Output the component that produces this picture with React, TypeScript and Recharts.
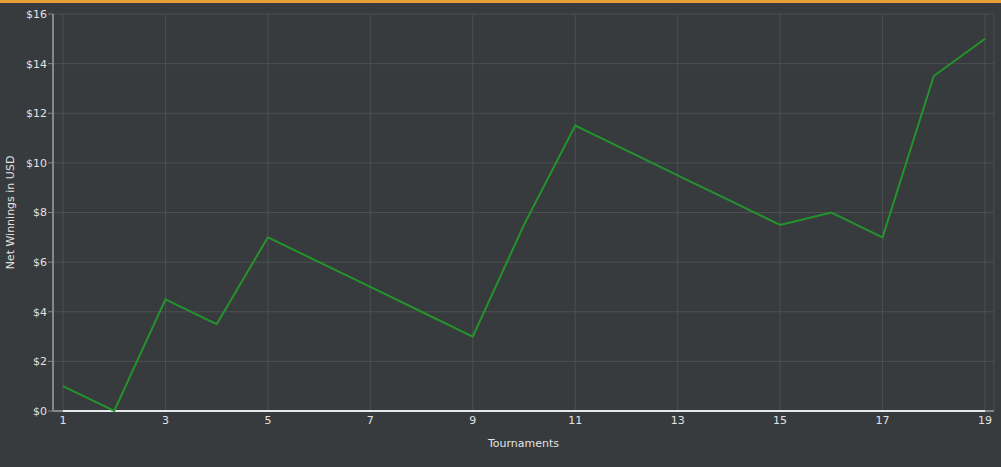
import React from "react"
import {
  LineChart,
  Line,
  XAxis,
  YAxis,
  CartesianGrid,
  ReferenceLine,
} from "recharts"

const tournaments = [1, 2, 3, 4, 5, 6, 7, 8, 9, 10, 11, 12, 13, 14, 15, 16, 17, 18, 19]
const netWinnings = [1, 0, 4.5, 3.5, 7, 6, 5, 4, 3, 7.5, 11.5, 10.5, 9.5, 8.5, 7.5, 8, 7, 13.5, 15]
const xTicks = [1, 3, 5, 7, 9, 11, 13, 15, 17, 19]
const yTicks = [0, 2, 4, 6, 8, 10, 12, 14, 16]

const data = tournaments.map((t, i) => ({ tournament: t, winnings: netWinnings[i] }))

const BG = "#373b3e"
const GRID = "#4c5053"
const BORDER = "#858789"
const TEXT = "#e2e2e2"
const FONT = "'DejaVu Sans', Verdana, sans-serif"

export default function App() {
  return (
    <div
      style={{
        position: "fixed",
        top: 0,
        left: 0,
        width: 1001,
        height: 467,
        background: BG,
        fontFamily: FONT,
      }}
    >
      <div style={{ position: "absolute", top: 0, left: 0, width: 1001, height: 3, background: "#e89f3a" }} />
      <LineChart
        width={1001}
        height={467}
        data={data}
        margin={{ top: 14, right: 7, bottom: 0, left: 0 }}
      >
        <CartesianGrid stroke={GRID} strokeWidth={1} />
        <XAxis
          dataKey="tournament"
          type="number"
          domain={[1, 19]}
          ticks={xTicks}
          padding={{ left: 10, right: 9 }}
          height={56}
          axisLine={{ stroke: BORDER, strokeWidth: 2 }}
          tickLine={false}
          tickSize={3}
          tickMargin={2}
          tick={{ fill: TEXT, fontSize: 11, fontFamily: FONT }}
          label={{
            value: "Tournaments",
            position: "insideBottom",
            offset: 20,
            fill: TEXT,
            fontSize: 11,
            fontFamily: FONT,
          }}
        />
        <XAxis
          xAxisId="top"
          dataKey="tournament"
          type="number"
          domain={[1, 19]}
          orientation="top"
          height={0}
          tick={false}
          tickLine={false}
          axisLine={{ stroke: BORDER, strokeWidth: 2 }}
        />
        <YAxis
          type="number"
          domain={[0, 16]}
          ticks={yTicks}
          width={53}
          axisLine={{ stroke: BORDER, strokeWidth: 2 }}
          tickLine={{ stroke: BORDER }}
          tickSize={5}
          tickMargin={1}
          tickFormatter={(v) => `$${v}`}
          tick={{ fill: TEXT, fontSize: 11, fontFamily: FONT }}
          label={{
            value: "Net Winnings in USD",
            angle: -90,
            position: "insideLeft",
            offset: 10,
            fill: TEXT,
            fontSize: 11,
            fontFamily: FONT,
            style: { textAnchor: "middle" },
          }}
        />
        <YAxis
          yAxisId="right"
          orientation="right"
          type="number"
          domain={[0, 16]}
          width={0}
          tick={false}
          tickLine={false}
          axisLine={{ stroke: BORDER, strokeWidth: 2 }}
        />
        <ReferenceLine
          segment={[
            { x: 1, y: 0 },
            { x: 19, y: 0 },
          ]}
          stroke="#e8e8e8"
          strokeWidth={2}
          ifOverflow="visible"
          zIndex={1000}
        />
        <Line
          type="linear"
          dataKey="winnings"
          stroke="#23942b"
          strokeWidth={2}
          dot={false}
          isAnimationActive={false}
          zIndex={1100}
        />
      </LineChart>
    </div>
  )
}
